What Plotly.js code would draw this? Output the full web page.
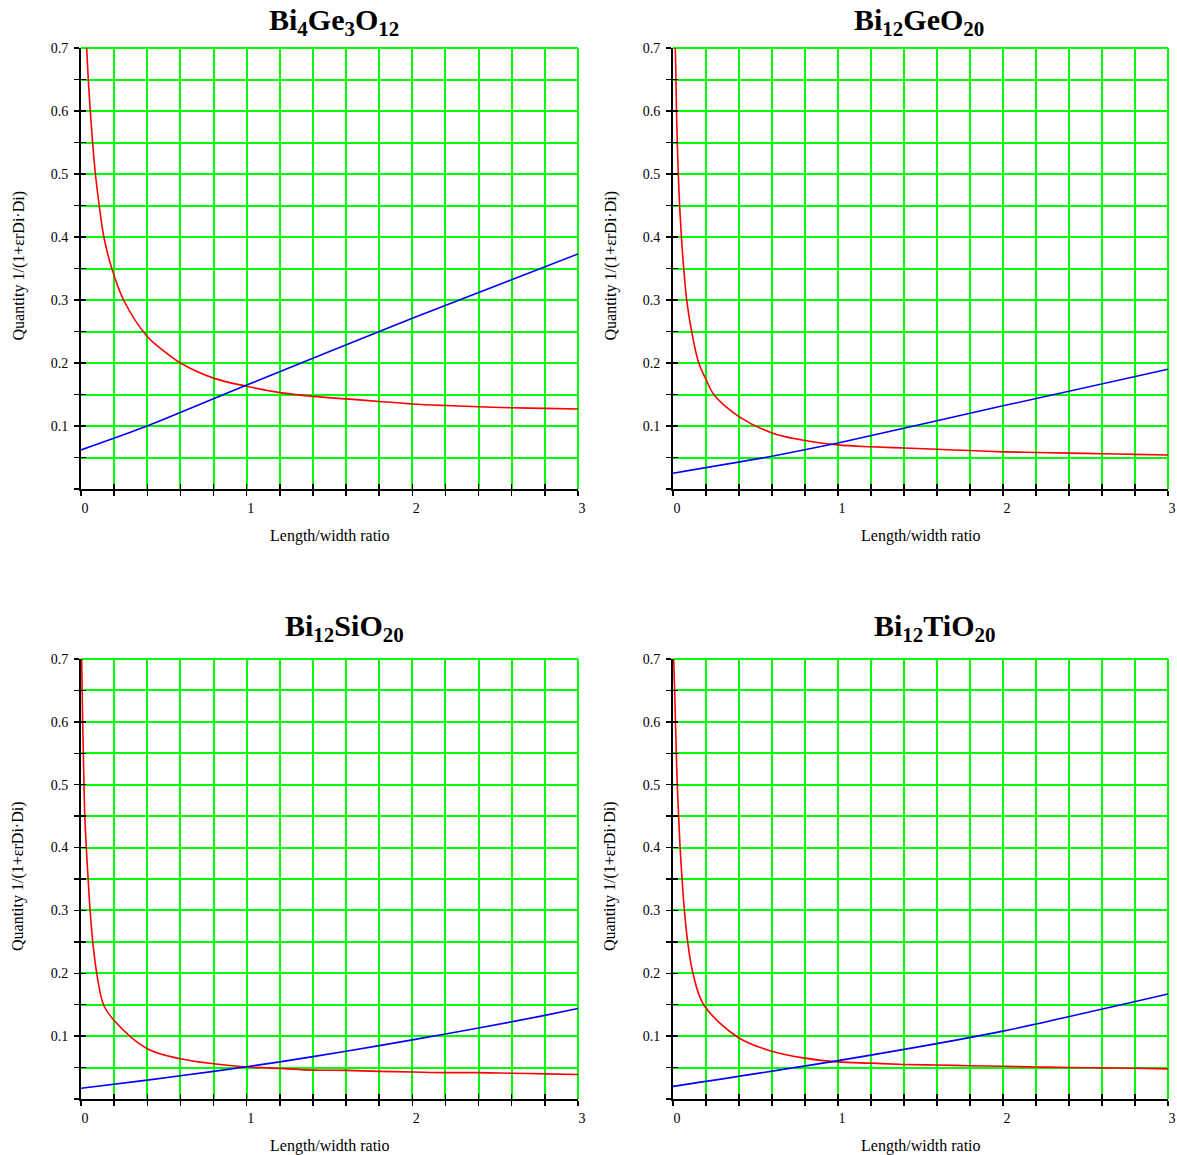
<!DOCTYPE html>
<html><head><meta charset="utf-8">
<script src="https://cdn.plot.ly/plotly-3.0.1.min.js"></script>
<style>html,body{margin:0;padding:0;background:#fff}</style>
</head><body><div id="chart" style="width:1177px;height:1155px"></div>
<script>
// ---- data ----
const panelTitles = ["Bi<sub>4</sub>Ge<sub>3</sub>O<sub>12</sub>", "Bi<sub>12</sub>GeO<sub>20</sub>", "Bi<sub>12</sub>SiO<sub>20</sub>", "Bi<sub>12</sub>TiO<sub>20</sub>"];
const xAxisTitle = "Length/width ratio";
const yAxisTitle = "Quantity 1/(1+εrDi·Di)";

const xLabelVals = [0, 1, 2, 3];
const xLabelText = ["0", "1", "2", "3"];
const yLabelVals = [0.1, 0.2, 0.3, 0.4, 0.5, 0.6, 0.7];
const yLabelText = ["0.1", "0.2", "0.3", "0.4", "0.5", "0.6", "0.7"];
const xTickVals = [0,0.2,0.4,0.6,0.8,1,1.2,1.4,1.6,1.8,2,2.2,2.4,2.6,2.8,3];
const yTickVals = [0,0.05,0.1,0.15,0.2,0.25,0.3,0.35,0.4,0.45,0.5,0.55,0.6,0.65,0.7];
const xMinorStep = 0.2, yMinorStep = 0.05;

// Bi4Ge3O12
const redX_BGO = [0.034,0.044,0.056,0.07,0.087,0.11,0.138,0.186,0.257,0.4,0.5,0.6,0.8,1.0,1.2,1.4,1.6,1.8,2.0,2.2,2.4,2.6,2.8,3.0];
const redY_BGO = [0.70,0.65,0.60,0.55,0.50,0.45,0.40,0.35,0.30,0.242,0.219,0.20,0.176,0.163,0.153,0.147,0.143,0.139,0.135,0.1325,0.1305,0.129,0.128,0.127];
const blueX_BGO = [0,0.4,1,2,3];
const blueY_BGO = [0.062,0.1,0.165,0.271,0.373];

// Bi12GeO20
const redX_BGeO = [0.014,0.018,0.021,0.026,0.032,0.040,0.051,0.065,0.083,0.113,0.156,0.2,0.247,0.4,0.6,0.8,1.0,1.2,1.4,1.6,1.8,2.0,2.2,2.4,2.6,2.8,3.0];
const redY_BGeO = [0.70,0.65,0.60,0.55,0.50,0.45,0.40,0.35,0.30,0.25,0.20,0.174,0.15,0.115,0.089,0.077,0.070,0.067,0.065,0.063,0.061,0.059,0.058,0.057,0.056,0.055,0.054];
const blueX_BGeO = [0,0.6,1,2,3];
const blueY_BGeO = [0.025,0.052,0.073,0.132,0.19];

// Bi12SiO20
const redX_BSO = [0.004,0.010,0.014,0.018,0.023,0.032,0.043,0.055,0.071,0.095,0.136,0.2,0.4,0.6,0.8,1.0,1.2,1.4,1.6,1.8,2.0,2.2,2.4,2.6,2.8,3.0];
const redY_BSO = [0.70,0.60,0.55,0.50,0.45,0.40,0.35,0.30,0.25,0.20,0.15,0.125,0.080,0.064,0.056,0.051,0.0487,0.046,0.0455,0.044,0.043,0.042,0.042,0.041,0.040,0.039];
const blueX_BSO = [0,0.4,0.8,1.2,1.6,2.0,2.4,2.8,3.0];
const blueY_BSO = [0.017,0.030,0.044,0.059,0.076,0.094,0.113,0.133,0.144];

// Bi12TiO20
const redX_BTO = [0.004,0.010,0.015,0.020,0.026,0.034,0.043,0.055,0.069,0.089,0.121,0.186,0.4,0.6,0.8,1.0,1.2,1.4,1.6,1.8,2.0,2.2,2.4,2.6,2.8,3.0];
const redY_BTO = [0.70,0.65,0.60,0.55,0.50,0.45,0.40,0.35,0.30,0.25,0.20,0.15,0.097,0.076,0.065,0.059,0.057,0.055,0.054,0.053,0.052,0.051,0.050,0.0495,0.049,0.048];
const blueX_BTO = [0,1,2,3];
const blueY_BTO = [0.020,0.061,0.108,0.167];

// ---- layout helpers ----
const W = 1177, H = 1155;
const px = v => v / W;
const py = v => 1 - v / H;

const panels = [
  {rx: redX_BGO, ry: redY_BGO, bx: blueX_BGO, by: blueY_BGO, xd:[81,578], yd:[48,489], tx:334, ty:22},
  {rx: redX_BGeO, ry: redY_BGeO, bx: blueX_BGeO, by: blueY_BGeO, xd:[673,1168], yd:[48,489], tx:919, ty:22},
  {rx: redX_BSO, ry: redY_BSO, bx: blueX_BSO, by: blueY_BSO, xd:[81,578], yd:[659,1099], tx:344, ty:628},
  {rx: redX_BTO, ry: redY_BTO, bx: blueX_BTO, by: blueY_BTO, xd:[673,1168], yd:[659,1099], tx:935, ty:628}
];

const tickFont = {family: "Liberation Serif", size: 14, color: "#000"};
const GREEN = "#00ff00";
const data = [];
const layout = {
  width: W, height: H,
  margin: {l:0, r:0, t:0, b:0},
  paper_bgcolor: "#fff", plot_bgcolor: "#fff",
  showlegend: false,
  annotations: [], shapes: []
};

panels.forEach((p, i) => {
  const n = i + 1, m = i + 5;
  const xa = "x" + n, ya = "y" + n, xo = "x" + m, yo = "y" + m;
  const xdom = [px(p.xd[0]), px(p.xd[1])];
  const ydom = [py(p.yd[1]), py(p.yd[0])];
  layout["xaxis" + n] = {
    domain: xdom, anchor: ya, range: [0, 3], fixedrange: true,
    tickmode: "array", tickvals: xLabelVals, ticktext: xLabelText,
    ticks: "outside", ticklen: 5, tickwidth: 1.5, tickcolor: "#000",
    minor: {tick0: 0, dtick: xMinorStep, ticks: "outside", ticklen: 5, tickwidth: 1.5, tickcolor: "#000",
            showgrid: true, gridcolor: GREEN, gridwidth: 2},
    showline: true, linecolor: "#000", linewidth: 2,
    showgrid: true, gridcolor: GREEN, gridwidth: 2, zeroline: false,
    tickfont: tickFont, ticklabelshift: 4, ticklabeloverflow: "allow", automargin: false
  };
  layout["yaxis" + n] = {
    domain: ydom, anchor: xa, range: [0, 0.7], fixedrange: true,
    tickmode: "array", tickvals: yLabelVals, ticktext: yLabelText,
    ticks: "outside", ticklen: 5, tickwidth: 1.5, tickcolor: "#000",
    minor: {tick0: 0, dtick: yMinorStep, ticks: "outside", ticklen: 5, tickwidth: 1.5, tickcolor: "#000",
            showgrid: true, gridcolor: GREEN, gridwidth: 2},
    showline: true, linecolor: "#000", linewidth: 2,
    showgrid: true, gridcolor: GREEN, gridwidth: 2, zeroline: false,
    tickfont: tickFont, ticklabelstandoff: 3, ticklabeloverflow: "allow", automargin: false
  };
  // overlay axes giving the inner half of the crossing tick marks
  layout["xaxis" + m] = {
    overlaying: xa, anchor: yo, range: [0, 3], fixedrange: true,
    tickmode: "array", tickvals: xTickVals, ticks: "inside", ticklen: 5, tickwidth: 1.5, tickcolor: "#000",
    showticklabels: false, showgrid: false, zeroline: false, showline: false
  };
  layout["yaxis" + m] = {
    overlaying: ya, anchor: xo, range: [0, 0.7], fixedrange: true,
    tickmode: "array", tickvals: yTickVals, ticks: "inside", ticklen: 5, tickwidth: 1.5, tickcolor: "#000",
    showticklabels: false, showgrid: false, zeroline: false, showline: false
  };

  // green grid lines on the top and right edges of the plot frame
  layout.shapes.push({type: "line", xref: xa + " domain", yref: ya + " domain", x0: 0, x1: 1, y0: 1, y1: 1,
    line: {color: GREEN, width: 2}, layer: "below"});
  layout.shapes.push({type: "line", xref: xa + " domain", yref: ya + " domain", x0: 1, x1: 1, y0: 0, y1: 1,
    line: {color: GREEN, width: 2}, layer: "below"});

  data.push({x: p.rx, y: p.ry, xaxis: xa, yaxis: ya, mode: "lines", type: "scatter",
    line: {color: "#ff0000", width: 1.6, shape: "spline", smoothing: 1}, hoverinfo: "skip"});
  data.push({x: p.bx, y: p.by, xaxis: xa, yaxis: ya, mode: "lines", type: "scatter",
    line: {color: "#0000ff", width: 1.6, shape: "spline", smoothing: 0.6}, hoverinfo: "skip"});
  data.push({x: [null], y: [null], xaxis: xo, yaxis: yo, mode: "lines", type: "scatter", hoverinfo: "skip"});

  layout.annotations.push({
    text: "<b>" + panelTitles[i] + "</b>", xref: "paper", yref: "paper",
    x: px(p.tx), y: py(p.ty), xanchor: "center", yanchor: "middle", showarrow: false,
    font: {family: "Liberation Serif", size: 30, color: "#000"}
  });
  const cx = (p.xd[0] + p.xd[1]) / 2, cy = (p.yd[0] + p.yd[1]) / 2;
  layout.annotations.push({
    text: xAxisTitle, xref: "paper", yref: "paper",
    x: px(cx), y: py(p.yd[1] + 47), xanchor: "center", yanchor: "middle", showarrow: false,
    font: {family: "Liberation Serif", size: 16, color: "#000"}
  });
  layout.annotations.push({
    text: yAxisTitle, xref: "paper", yref: "paper", textangle: -90,
    x: px(p.xd[0] - 63), y: py(cy - 3), xanchor: "center", yanchor: "middle", showarrow: false,
    font: {family: "Liberation Serif", size: 16, color: "#000"}
  });
});

Plotly.newPlot("chart", data, layout, {staticPlot: true, displayModeBar: false});
</script>
</body></html>
